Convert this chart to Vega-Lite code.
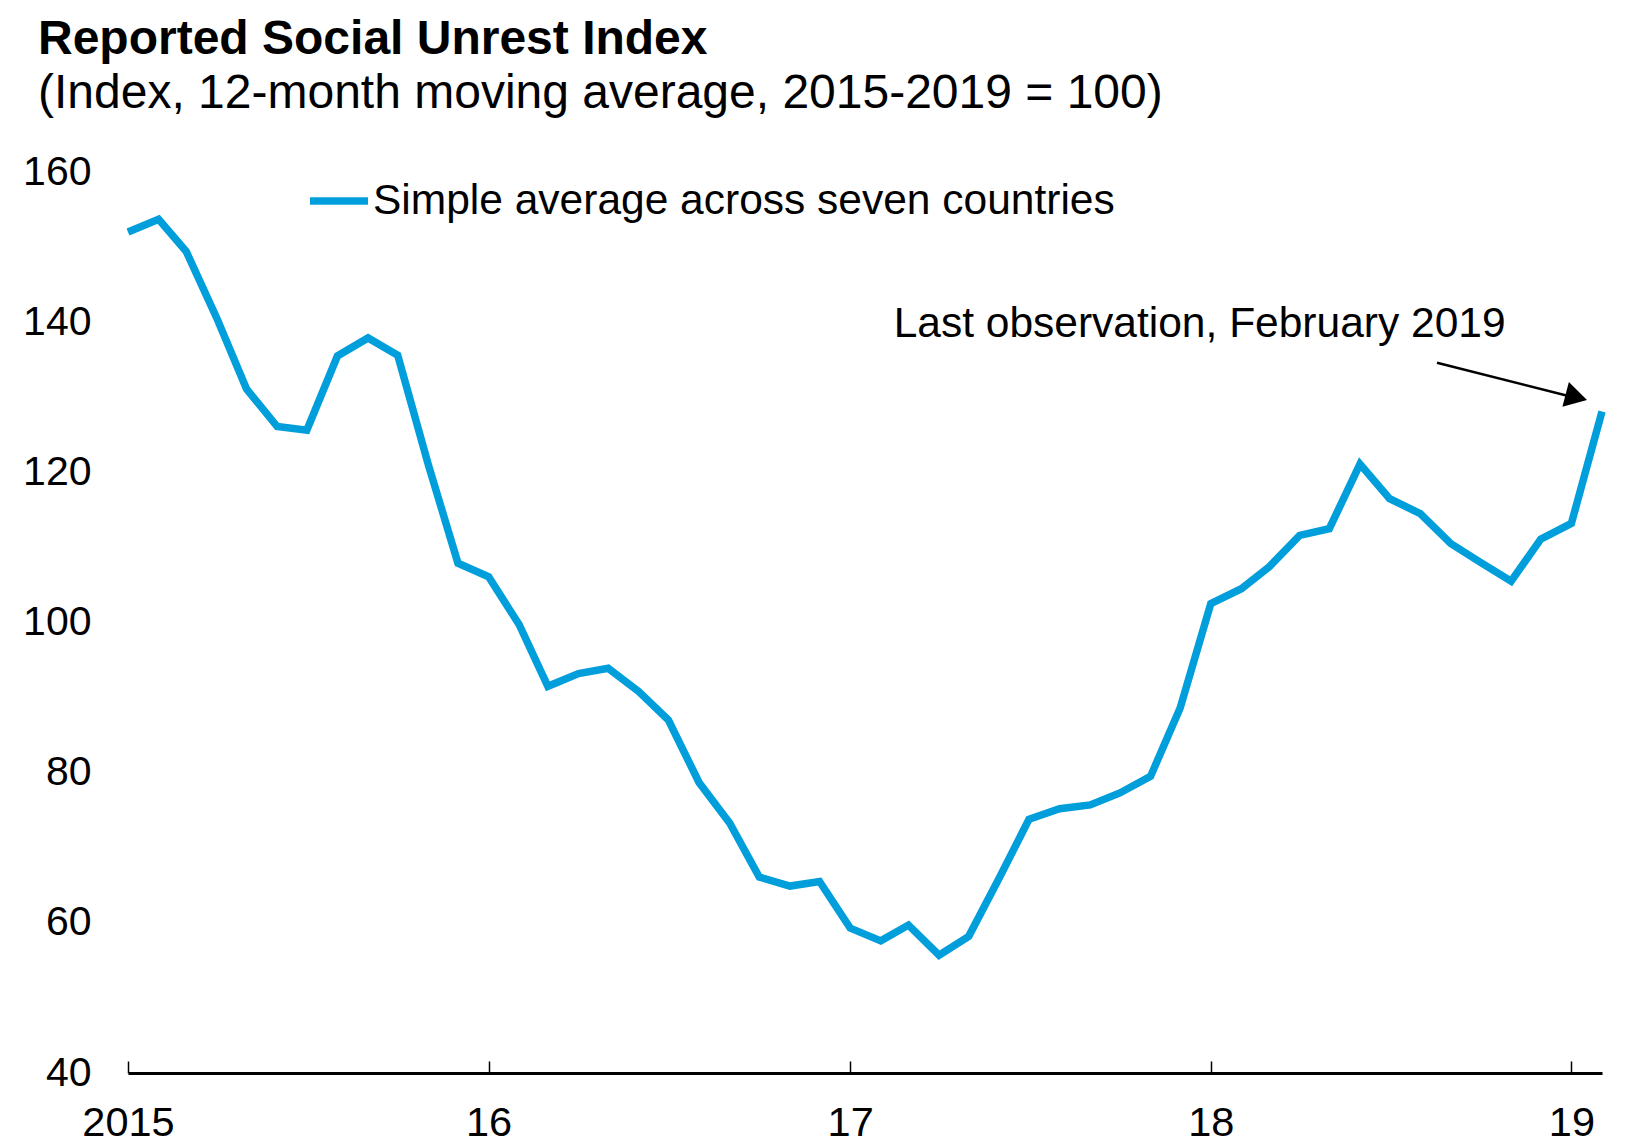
{
  "$schema": "https://vega.github.io/schema/vega-lite/v6.json",
  "width": 1474,
  "height": 901,
  "autosize": "none",
  "padding": {"left": 128, "top": 172, "right": 34, "bottom": 72},
  "background": "white",
  "title": {
    "text": "Reported Social Unrest Index",
    "subtitle": "(Index, 12-month moving average, 2015-2019 = 100)",
    "anchor": "start",
    "frame": "group",
    "dx": -90,
    "offset": 33,
    "font": "Liberation Sans",
    "subtitleFont": "Liberation Sans",
    "fontSize": 48,
    "fontWeight": "bold",
    "subtitleFontSize": 48,
    "subtitlePadding": 6,
    "color": "black",
    "subtitleColor": "black"
  },
  "config": {
    "view": {"stroke": null},
    "font": "Liberation Sans"
  },
  "layer": [
    {
      "data": {
        "values": [
          {"date": "2015-01-01", "value": 152.0, "series": "Simple average across seven countries"},
          {"date": "2015-02-01", "value": 153.7, "series": "Simple average across seven countries"},
          {"date": "2015-03-01", "value": 149.4, "series": "Simple average across seven countries"},
          {"date": "2015-04-01", "value": 140.5, "series": "Simple average across seven countries"},
          {"date": "2015-05-01", "value": 131.1, "series": "Simple average across seven countries"},
          {"date": "2015-06-01", "value": 126.1, "series": "Simple average across seven countries"},
          {"date": "2015-07-01", "value": 125.6, "series": "Simple average across seven countries"},
          {"date": "2015-08-01", "value": 135.5, "series": "Simple average across seven countries"},
          {"date": "2015-09-01", "value": 137.9, "series": "Simple average across seven countries"},
          {"date": "2015-10-01", "value": 135.6, "series": "Simple average across seven countries"},
          {"date": "2015-11-01", "value": 121.0, "series": "Simple average across seven countries"},
          {"date": "2015-12-01", "value": 107.9, "series": "Simple average across seven countries"},
          {"date": "2016-01-01", "value": 106.1, "series": "Simple average across seven countries"},
          {"date": "2016-02-01", "value": 99.7, "series": "Simple average across seven countries"},
          {"date": "2016-03-01", "value": 91.5, "series": "Simple average across seven countries"},
          {"date": "2016-04-01", "value": 93.2, "series": "Simple average across seven countries"},
          {"date": "2016-05-01", "value": 93.9, "series": "Simple average across seven countries"},
          {"date": "2016-06-01", "value": 90.8, "series": "Simple average across seven countries"},
          {"date": "2016-07-01", "value": 87.0, "series": "Simple average across seven countries"},
          {"date": "2016-08-01", "value": 78.7, "series": "Simple average across seven countries"},
          {"date": "2016-09-01", "value": 73.3, "series": "Simple average across seven countries"},
          {"date": "2016-10-01", "value": 66.1, "series": "Simple average across seven countries"},
          {"date": "2016-11-01", "value": 64.9, "series": "Simple average across seven countries"},
          {"date": "2016-12-01", "value": 65.5, "series": "Simple average across seven countries"},
          {"date": "2017-01-01", "value": 59.3, "series": "Simple average across seven countries"},
          {"date": "2017-02-01", "value": 57.6, "series": "Simple average across seven countries"},
          {"date": "2017-03-01", "value": 59.7, "series": "Simple average across seven countries"},
          {"date": "2017-04-01", "value": 55.7, "series": "Simple average across seven countries"},
          {"date": "2017-05-01", "value": 58.2, "series": "Simple average across seven countries"},
          {"date": "2017-06-01", "value": 66.0, "series": "Simple average across seven countries"},
          {"date": "2017-07-01", "value": 73.8, "series": "Simple average across seven countries"},
          {"date": "2017-08-01", "value": 75.2, "series": "Simple average across seven countries"},
          {"date": "2017-09-01", "value": 75.7, "series": "Simple average across seven countries"},
          {"date": "2017-10-01", "value": 77.3, "series": "Simple average across seven countries"},
          {"date": "2017-11-01", "value": 79.5, "series": "Simple average across seven countries"},
          {"date": "2017-12-01", "value": 88.6, "series": "Simple average across seven countries"},
          {"date": "2018-01-01", "value": 102.5, "series": "Simple average across seven countries"},
          {"date": "2018-02-01", "value": 104.5, "series": "Simple average across seven countries"},
          {"date": "2018-03-01", "value": 107.4, "series": "Simple average across seven countries"},
          {"date": "2018-04-01", "value": 111.6, "series": "Simple average across seven countries"},
          {"date": "2018-05-01", "value": 112.5, "series": "Simple average across seven countries"},
          {"date": "2018-06-01", "value": 121.1, "series": "Simple average across seven countries"},
          {"date": "2018-07-01", "value": 116.5, "series": "Simple average across seven countries"},
          {"date": "2018-08-01", "value": 114.5, "series": "Simple average across seven countries"},
          {"date": "2018-09-01", "value": 110.5, "series": "Simple average across seven countries"},
          {"date": "2018-10-01", "value": 108.0, "series": "Simple average across seven countries"},
          {"date": "2018-11-01", "value": 105.5, "series": "Simple average across seven countries"},
          {"date": "2018-12-01", "value": 111.1, "series": "Simple average across seven countries"},
          {"date": "2019-01-01", "value": 113.2, "series": "Simple average across seven countries"},
          {"date": "2019-02-01", "value": 128.1, "series": "Simple average across seven countries"}
        ]
      },
      "mark": {"type": "line", "strokeWidth": 7.5},
      "encoding": {
        "x": {
          "field": "date",
          "type": "temporal",
          "scale": {
            "type": "utc",
            "domain": [
              {"year": 2015, "month": 1, "date": 1, "utc": true},
              {"year": 2019, "month": 2, "date": 1, "utc": true}
            ]
          },
          "axis": {
            "values": [
              {"year": 2015, "month": 1, "date": 1, "utc": true},
              {"year": 2016, "month": 1, "date": 1, "utc": true},
              {"year": 2017, "month": 1, "date": 1, "utc": true},
              {"year": 2018, "month": 1, "date": 1, "utc": true},
              {"year": 2019, "month": 1, "date": 1, "utc": true}
            ],
            "labelExpr": "utcFormat(datum.value, '%Y') == '2015' ? '2015' : utcFormat(datum.value, '%y')",
            "title": null,
            "grid": false,
            "labelFont": "Liberation Sans",
            "labelFontSize": 41.5,
            "labelColor": "black",
            "labelPadding": 41,
            "labelFlush": false,
            "labelOverlap": false,
            "domainColor": "black",
            "domainWidth": 3,
            "tickColor": "black",
            "tickWidth": 1.5,
            "tickSize": -12
          }
        },
        "y": {
          "field": "value",
          "type": "quantitative",
          "scale": {"domain": [40, 160], "nice": false, "zero": false},
          "axis": {
            "values": [40, 60, 80, 100, 120, 140, 160],
            "title": null,
            "grid": false,
            "domain": false,
            "ticks": false,
            "labelFont": "Liberation Sans",
            "labelFontSize": 41,
            "labelColor": "black",
            "labelPadding": 37
          }
        },
        "color": {
          "field": "series",
          "type": "nominal",
          "scale": {"range": ["#009EDB"]},
          "legend": {
            "orient": "none",
            "legendX": 178,
            "legendY": -4,
            "title": null,
            "padding": 0,
            "symbolType": "stroke",
            "symbolStrokeWidth": 7.5,
            "symbolSize": 3364,
            "labelFont": "Liberation Sans",
            "labelFontSize": 42.5,
            "labelOffset": 1,
            "labelColor": "black",
            "labelLimit": 0
          }
        }
      }
    },
    {
      "data": {"values": [{"x1": "2018-08-18", "y1": 134.6, "x2": "2019-01-03", "y2": 130.0}]},
      "mark": {"type": "rule", "strokeWidth": 2.5, "color": "black"},
      "encoding": {
        "x": {"field": "x1", "type": "temporal"},
        "y": {"field": "y1", "type": "quantitative"},
        "x2": {"field": "x2"},
        "y2": {"field": "y2"}
      }
    },
    {
      "data": {"values": [{"date": "2019-01-06", "value": 130.0}]},
      "mark": {"type": "point", "shape": "triangle-right", "angle": 14.7, "filled": true, "color": "black", "opacity": 1, "size": 650},
      "encoding": {
        "x": {"field": "date", "type": "temporal"},
        "y": {"field": "value", "type": "quantitative"}
      }
    },
    {
      "data": {"values": [{"date": "2017-02-14", "value": 139.8, "label": "Last observation, February 2019"}]},
      "mark": {"type": "text", "align": "left", "baseline": "middle", "font": "Liberation Sans", "fontSize": 42.5, "color": "black"},
      "encoding": {
        "x": {"field": "date", "type": "temporal"},
        "y": {"field": "value", "type": "quantitative"},
        "text": {"field": "label"}
      }
    }
  ]
}
